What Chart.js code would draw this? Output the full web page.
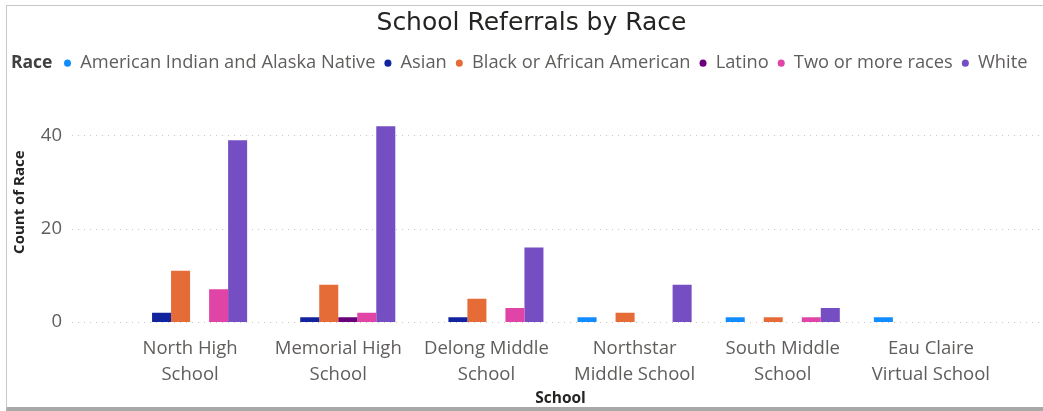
<!DOCTYPE html>
<html>
<head>
<meta charset="utf-8">
<script src="https://cdn.jsdelivr.net/npm/chart.js@4.4.0/dist/chart.umd.min.js"></script>
<style>
  body { margin: 0; background: #fff; }
  #wrap { position: relative; width: 1043px; height: 411px; }
  #frame { position: absolute; left: 6px; top: 5px; right: 0; bottom: 0;
           border-left: 1px solid #c8c8c8; border-top: 1px solid #c8c8c8;
           border-bottom: 4px solid #a8a8a8; pointer-events: none; }
</style>
</head>
<body>
<div id="wrap">
  <canvas id="myChart" width="1043" height="411"></canvas>
  <div id="frame"></div>
</div>
<script>
// categories
const schools = ['North High School', 'Memorial High School', 'Delong Middle School',
  'Northstar Middle School', 'South Middle School', 'Eau Claire Virtual School'];
const schoolLines = [['North High', 'School'], ['Memorial High', 'School'], ['Delong Middle', 'School'],
  ['Northstar', 'Middle School'], ['South Middle', 'School'], ['Eau Claire', 'Virtual School']];

// series (count of referrals per school)
const indianVals = [0, 0, 0, 1, 1, 1];
const asianVals  = [2, 1, 1, 0, 0, 0];
const blackVals  = [11, 8, 5, 2, 1, 0];
const latinoVals = [0, 1, 0, 0, 0, 0];
const twoVals    = [7, 2, 3, 0, 1, 0];
const whiteVals  = [39, 42, 16, 8, 3, 0];

const races = ['American Indian and Alaska Native', 'Asian', 'Black or African American',
  'Latino', 'Two or more races', 'White'];
const raceColors = ['#118DFF', '#12239E', '#E66C37', '#6B007B', '#E044A7', '#744EC2'];
const yTicks = [0, 20, 40];

const FONT = "'Open Sans', 'Noto Sans', sans-serif";
const grey = '#605E5C';

// dotted gridlines run wider than the plot, like Power BI
const gridPlugin = {
  id: 'dotGrid',
  beforeDatasetsDraw(chart) {
    const y = chart.scales.y, c = chart.ctx;
    c.save();
    c.strokeStyle = '#c8c6c4';
    c.lineWidth = 1;
    c.setLineDash([1, 5]);
    yTicks.forEach(v => {
      const py = Math.round(y.getPixelForValue(v)) + 0.5;
      c.beginPath();
      c.moveTo(72, py);
      c.lineTo(1040, py);
      c.stroke();
    });
    c.restore();
  }
};

// "Race" caption in front of the legend items, title centred on the whole visual
const legendCaption = {
  id: 'legendCaption',
  beforeUpdate(chart) {
    // let the legend row use the full canvas width (it otherwise wraps at plot width)
    const lg = chart.legend;
    if (lg && !lg._wide) {
      const fitRows = lg._fitRows;
      lg._fitRows = function () {
        const w = this.maxWidth;
        this.maxWidth = chart.width;
        const h = fitRows.apply(this, arguments);
        this.maxWidth = w;
        return h;
      };
      lg._wide = true;
    }
  },
  afterLayout(chart) {
    chart.legend.left += 55;
    chart.legend.right = chart.width;
    chart.titleBlock.left += 58;
  },
  afterDraw(chart) {
    const hb = chart.legend.legendHitBoxes[0];
    if (!hb) return;
    const c = chart.ctx;
    c.save();
    c.font = 'bold 17.5px ' + FONT;
    c.fillStyle = '#404040';
    c.textBaseline = 'middle';
    c.fillText('Race', 11, hb.top + hb.height / 2);
    c.restore();
  }
};

const ctx = document.getElementById('myChart').getContext('2d');

const datasets = [indianVals, asianVals, blackVals, latinoVals, twoVals, whiteVals].map((vals, i) => ({
  label: races[i],
  data: vals,
  backgroundColor: raceColors[i],
  borderWidth: 0,
  barPercentage: 1,
  categoryPercentage: 0.77
}));

const chart = new Chart(ctx, {
  type: 'bar',
  data: { labels: schools, datasets: datasets },
  plugins: [gridPlugin, legendCaption],
  options: {
    responsive: false,
    animation: false,
    layout: { padding: { left: 0, right: 38, top: 0, bottom: 0 } },
    plugins: {
      title: {
        display: true,
        text: 'School Referrals by Race',
        color: '#252423',
        font: { family: "'DejaVu Sans', sans-serif", size: 25, weight: 'normal' },
        padding: { top: 8, bottom: 7 }
      },
      legend: {
        position: 'top',
        align: 'start',
        labels: {
          usePointStyle: true,
          pointStyle: 'circle',
          pointStyleWidth: 7,
          boxHeight: 5,
          padding: 9,
          color: grey,
          font: { family: FONT, size: 18.3 }
        }
      },
      tooltip: { enabled: false }
    },
    scales: {
      x: {
        grid: { display: false, drawTicks: false },
        border: { display: false },
        ticks: {
          color: grey,
          font: { family: FONT, size: 18.5, lineHeight: 1.4 },
          padding: 14,
          maxRotation: 0,
          autoSkip: false,
          callback: (v, i) => schoolLines[i]
        },
        title: {
          display: true, text: 'School', color: '#252423',
          font: { family: FONT, size: 15.5, weight: 'bold' },
          padding: { top: 0, bottom: 3 }
        },
        afterFit: s => { s.height = 89; }
      },
      y: {
        min: 0,
        max: 51.4,
        grid: { display: false, drawTicks: false },
        border: { display: false },
        afterBuildTicks: s => { s.ticks = yTicks.map(v => ({ value: v })); },
        ticks: {
          color: grey,
          font: { family: FONT, size: 18.5 },
          padding: 54
        },
        title: {
          display: true, text: 'Count of Race', color: '#252423',
          font: { family: FONT, size: 15, weight: 'bold' },
          padding: { top: 11, bottom: 0 }
        },
        afterFit: s => { s.width = 116; }
      }
    }
  }
});
chart.update();
</script>
</body>
</html>
